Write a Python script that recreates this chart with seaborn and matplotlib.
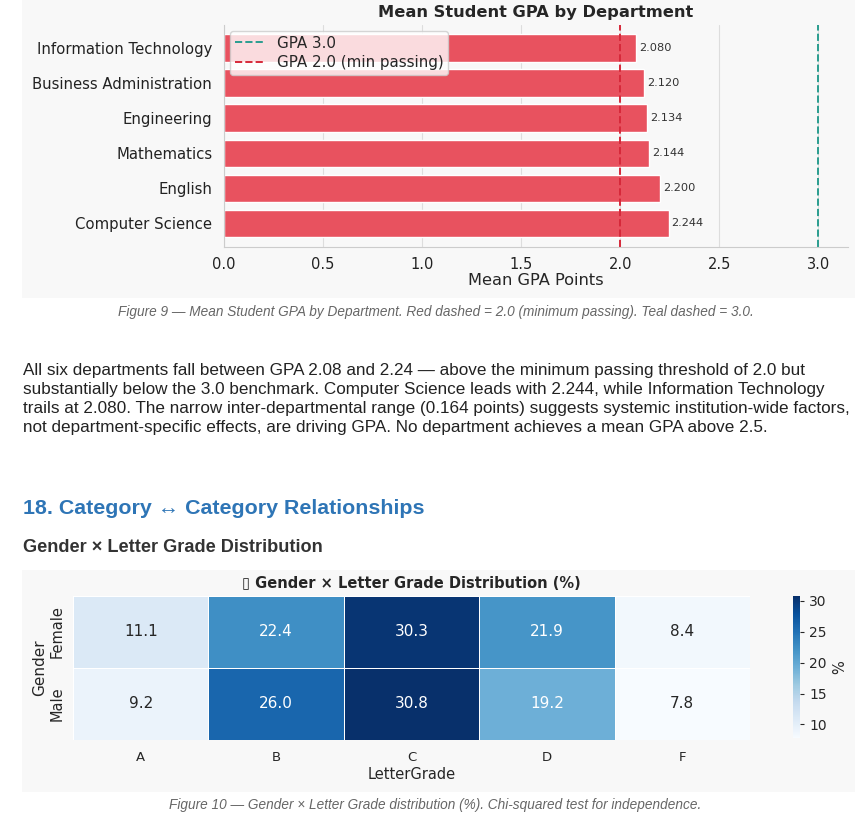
import numpy as np
import pandas as pd
import matplotlib
matplotlib.use("Agg")
import matplotlib.pyplot as plt
from matplotlib.patches import Rectangle
import seaborn as sns

# =============================================================================
# DATA
# =============================================================================
departments = ["Information Technology", "Business Administration", "Engineering",
               "Mathematics", "English", "Computer Science"]
mean_gpa = [2.080, 2.120, 2.134, 2.144, 2.200, 2.244]

genders = ["Female", "Male"]
letter_grades = ["A", "B", "C", "D", "F"]
female_pct = [11.1, 22.4, 30.3, 21.9, 8.4]
male_pct = [9.2, 26.0, 30.8, 19.2, 7.8]

PANEL = "#f8f8f8"
BAR = "#e8525f"
RED = "#d62839"
TEAL = "#2a9d8f"
W, H = 866, 817


def fx(px):
    return px / W


def fy(py):
    return 1 - py / H


# =============================================================================
# PAGE
# =============================================================================
sns.set_style("whitegrid", {"axes.facecolor": PANEL, "axes.edgecolor": "#cccccc",
                            "grid.color": "#dddddd"})
plt.rcParams["font.family"] = ["DejaVu Sans"]

fig = plt.figure(figsize=(W / 100, H / 100), dpi=100, facecolor="white")
fig.patches.append(Rectangle((fx(22), fy(298)), fx(855) - fx(22), fy(0) - fy(298),
                             transform=fig.transFigure, facecolor=PANEL, edgecolor="none", zorder=-5))
fig.patches.append(Rectangle((fx(22), fy(792)), fx(855) - fx(22), fy(570) - fy(792),
                             transform=fig.transFigure, facecolor=PANEL, edgecolor="none", zorder=-5))

# --- bar chart ---------------------------------------------------------------
ax = fig.add_axes([fx(224), fy(247), fx(848) - fx(224), fy(25) - fy(247)])
df_gpa = pd.DataFrame({"Department": departments, "GPA": mean_gpa})
sns.barplot(data=df_gpa, x="GPA", y="Department", orient="h", color=BAR,
            saturation=1, width=0.78, ax=ax)
l3 = ax.axvline(3.0, color=TEAL, ls="--", lw=1.4, label="GPA 3.0")
l2 = ax.axvline(2.0, color=RED, ls="--", lw=1.4, label="GPA 2.0 (min passing)")
for i, v in enumerate(mean_gpa):
    ax.text(v + 0.015, i, f"{v:.3f}", va="center", ha="left", fontsize=8.2, color="#333333")
ax.set_xlim(0, 3.15)
ax.set_ylim(5.68, -0.66)
ax.set_xticks([0.0, 0.5, 1.0, 1.5, 2.0, 2.5, 3.0])
ax.tick_params(axis="x", labelsize=10.5, colors="#222222")
ax.tick_params(axis="y", labelsize=10.7, colors="#222222", pad=5)
ax.set_ylabel("")
ax.set_xlabel("Mean GPA Points", fontsize=11.7, labelpad=1)
ax.set_title("Mean Student GPA by Department", fontsize=11.7, fontweight="bold", pad=6)
for s in ["top", "right"]:
    ax.spines[s].set_visible(False)
ax.legend(handles=[l3, l2], loc="upper left", fontsize=10.9, frameon=True,
          facecolor="white", framealpha=0.8, borderaxespad=0.4,
          borderpad=0.3, labelspacing=0.3)

# --- page text -----------------------------------------------------------------
arial = ["Liberation Sans", "DejaVu Sans"]
fig.text(0.503, fy(312), "Figure 9 \u2014 Mean Student GPA by Department. Red dashed = 2.0 "
         "(minimum passing). Teal dashed = 3.0.", ha="center", va="center",
         fontsize=9.8, style="italic", color="#666666", family=arial)

paragraph = ("All six departments fall between GPA 2.08 and 2.24 \u2014 above the minimum passing threshold of 2.0 but\n"
             "substantially below the 3.0 benchmark. Computer Science leads with 2.244, while Information Technology\n"
             "trails at 2.080. The narrow inter-departmental range (0.164 points) suggests systemic institution-wide factors,\n"
             "not department-specific effects, are driving GPA. No department achieves a mean GPA above 2.5.")
fig.text(fx(23), fy(363), paragraph, ha="left", va="top", fontsize=12.3,
         color="#222222", family=arial, linespacing=1.33)

fig.text(fx(23), fy(509), "18. Category \u2194 Category Relationships", ha="left", va="center",
         fontsize=15.4, fontweight="bold", color="#2e75b6", family=arial)
fig.text(fx(23), fy(548), "Gender \u00d7 Letter Grade Distribution", ha="left", va="center",
         fontsize=13.1, fontweight="bold", color="#333333", family=arial)

# --- heatmap -----------------------------------------------------------------
hax = fig.add_axes([fx(73), fy(740), fx(750) - fx(73), fy(596) - fy(740)])
cax = fig.add_axes([fx(793), fy(738), fx(800) - fx(793), fy(596) - fy(738)])
ct = pd.DataFrame([female_pct, male_pct], index=pd.Index(genders, name="Gender"),
                  columns=pd.Index(letter_grades, name="LetterGrade"))
sns.heatmap(ct, annot=True, fmt=".1f", cmap="Blues", linewidths=0.5, linecolor="white",
            annot_kws={"fontsize": 11}, ax=hax, cbar_ax=cax, cbar_kws={"label": "%"})
hax.set_title("\u25af Gender \u00d7 Letter Grade Distribution (%)", fontsize=10.5,
              fontweight="bold", pad=6)
hax.tick_params(axis="x", labelsize=9.5, length=0, pad=8)
hax.tick_params(axis="y", labelsize=10.5, length=0, pad=6)
hax.set_yticklabels(genders, rotation=90, va="center")
hax.set_xlabel("LetterGrade", fontsize=10.5, labelpad=2)
hax.set_ylabel("Gender", fontsize=11, labelpad=2)
cax.tick_params(labelsize=10, length=3)
cax.yaxis.label.set_size(10.5)

fig.text(0.503, fy(805), "Figure 10 \u2014 Gender \u00d7 Letter Grade distribution (%). "
         "Chi-squared test for independence.", ha="center", va="center",
         fontsize=9.8, style="italic", color="#666666", family=arial)

fig.savefig("out.png", dpi=100, facecolor="white")
